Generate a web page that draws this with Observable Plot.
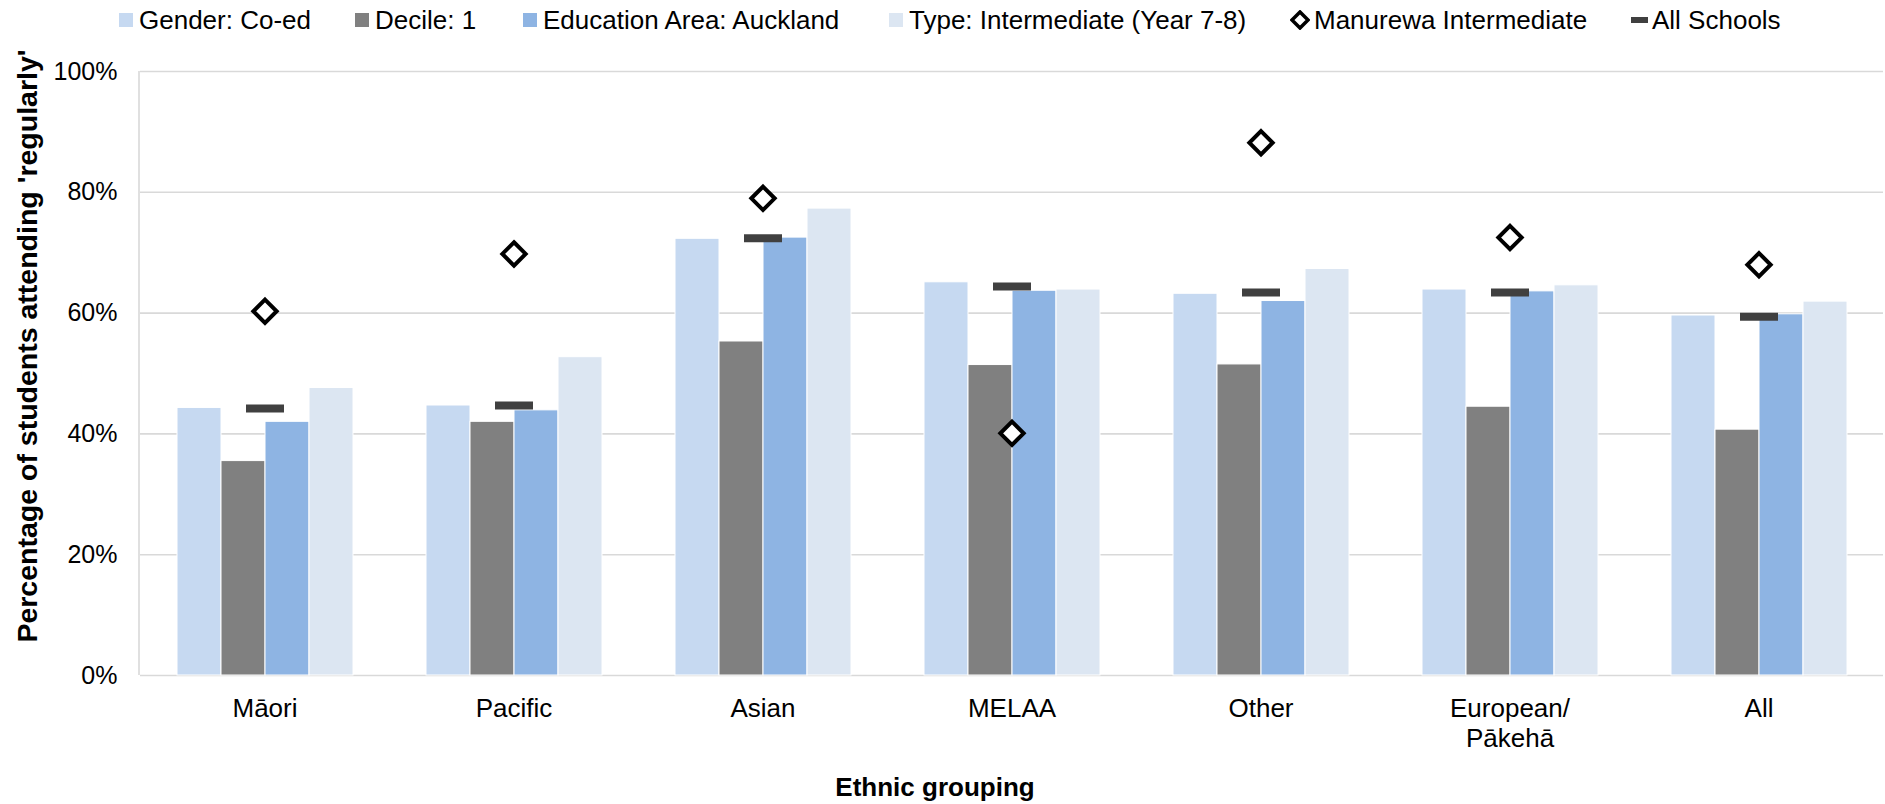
<!DOCTYPE html>
<html>
<head>
<meta charset="utf-8">
<script src="https://cdn.jsdelivr.net/npm/d3@7"></script>
<script src="https://cdn.jsdelivr.net/npm/@observablehq/plot@0.6"></script>
<style>
html, body { margin: 0; padding: 0; background: #fff; }
#wrap { position: relative; width: 1885px; height: 804px; font-family: "Liberation Sans", Arial, sans-serif; color: #000; }
#legend { position: relative; height: 40px; }
.item { position: absolute; top: 0; height: 40px; display: flex; align-items: center; font-size: 26px; white-space: nowrap; }
.sw { width: 14px; height: 14px; margin-right: 6px; flex: none; }
.ytitle { position: absolute; left: 27px; top: 346px; transform: translate(-50%, -50%) rotate(-90deg); font-weight: bold; font-size: 28.5px; white-space: nowrap; }
.xtitle { position: absolute; left: 935px; top: 787px; transform: translate(-50%, -50%); font-weight: bold; font-size: 26px; white-space: nowrap; }
</style>
</head>
<body>
<div id="wrap">
  <div id="legend"></div>
  <div id="chart"></div>
  <div class="ytitle">Percentage of students attending 'regularly'</div>
  <div class="xtitle">Ethnic grouping</div>
</div>
<script>
// ---- Data ----
const categories = ["Māori", "Pacific", "Asian", "MELAA", "Other", "European/\nPākehā", "All"];
const series = ["Gender: Co-ed", "Decile: 1", "Education Area: Auckland", "Type: Intermediate (Year 7-8)"];
const coEd = [44.3, 44.7, 72.3, 65.1, 63.2, 63.9, 59.6];
const decile1 = [35.5, 42.0, 55.3, 51.4, 51.5, 44.5, 40.7];
const auckland = [42.0, 43.9, 72.5, 63.7, 62.0, 63.6, 59.8];
const intermediate = [47.6, 52.7, 77.3, 63.9, 67.3, 64.6, 61.9];
const manurewa = [60.3, 69.8, 79.0, 40.1, 88.2, 72.5, 68.0];
const allSchools = [44.2, 44.7, 72.4, 64.4, 63.4, 63.4, 59.4];
const yTicks = [0, 20, 40, 60, 80, 100];
const seriesColors = ["#C6D9F1", "#808080", "#8EB4E3", "#DCE6F2"];

// ---- Tables ----
const seriesValues = [coEd, decile1, auckland, intermediate];
const bars = categories.flatMap((c, i) => series.map((s, j) => ({category: c, series: s, value: seriesValues[j][i]})));
const manurewaRows = categories.map((c, i) => ({category: c, value: manurewa[i]}));
const allRows = categories.map((c, i) => ({category: c, value: allSchools[i]}));

const dashSymbol = { draw(context) { context.rect(-19, -4, 38, 8); } };

// ---- Legend ----
const legend = document.getElementById("legend");
const legendLefts = [119, 355, 523, 889, 1290, 1631];
series.forEach((s, i) => {
  const d = document.createElement("div");
  d.className = "item";
  d.style.left = legendLefts[i] + "px";
  d.innerHTML = `<span class="sw" style="background:${seriesColors[i]}"></span><span>${s}</span>`;
  legend.appendChild(d);
});
{
  const d = document.createElement("div");
  d.className = "item";
  d.style.left = legendLefts[4] + "px";
  d.innerHTML = `<svg width="20" height="20" style="margin-right:4px;flex:none"><polygon points="10,2 18,10 10,18 2,10" fill="white" stroke="black" stroke-width="3.5"/></svg><span>Manurewa Intermediate</span>`;
  legend.appendChild(d);
  const e = document.createElement("div");
  e.className = "item";
  e.style.left = legendLefts[5] + "px";
  e.innerHTML = `<span style="display:inline-block;width:17px;height:6px;background:#404040;margin-right:4px;flex:none"></span><span>All Schools</span>`;
  legend.appendChild(e);
}

// ---- Plot ----
const plot = Plot.plot({
  width: 1885,
  height: 764,
  marginTop: 31,
  marginBottom: 129,
  marginLeft: 139,
  marginRight: 1,
  style: { fontFamily: "'Liberation Sans', Arial, sans-serif", fontSize: "25px", color: "#000", background: "#fff" },
  fx: { domain: categories, padding: 0, label: null },
  x: { domain: series, axis: null, paddingInner: 0, paddingOuter: 0.77 },
  y: { domain: [0, 100], label: null },
  color: { domain: series, range: seriesColors },
  marks: [
    Plot.gridY(yTicks, { stroke: "#D9D9D9", strokeOpacity: 1, strokeWidth: 1.6 }),
    Plot.axisY(yTicks, { tickSize: 0, tickPadding: 23, tickFormat: d => d + "%", fontSize: 25, label: null }),
    Plot.axisFx({ anchor: "bottom", tickSize: 0, tickPadding: 20, fontSize: 26, lineHeight: 1.15, label: null }),
    Plot.barY(bars, { fx: "category", x: "series", y: "value", fill: "series", stroke: "#fff", strokeWidth: 1 }),
    Plot.dot(allRows, { fx: "category", y: "value", symbol: dashSymbol, fill: "#404040", stroke: "none", r: 5 }),
    Plot.dot(manurewaRows, { fx: "category", y: "value", symbol: "diamond2", fill: "#fff", stroke: "#000", strokeWidth: 4, r: 10.5 })
  ]
});
document.getElementById("chart").appendChild(plot);

// left axis line
const ys = plot.scale("y");
d3.select(plot).append("line")
  .attr("x1", 139).attr("x2", 139)
  .attr("y1", ys.apply(100)).attr("y2", ys.apply(0))
  .attr("stroke", "#D9D9D9").attr("stroke-width", 1.6);
</script>
</body>
</html>
